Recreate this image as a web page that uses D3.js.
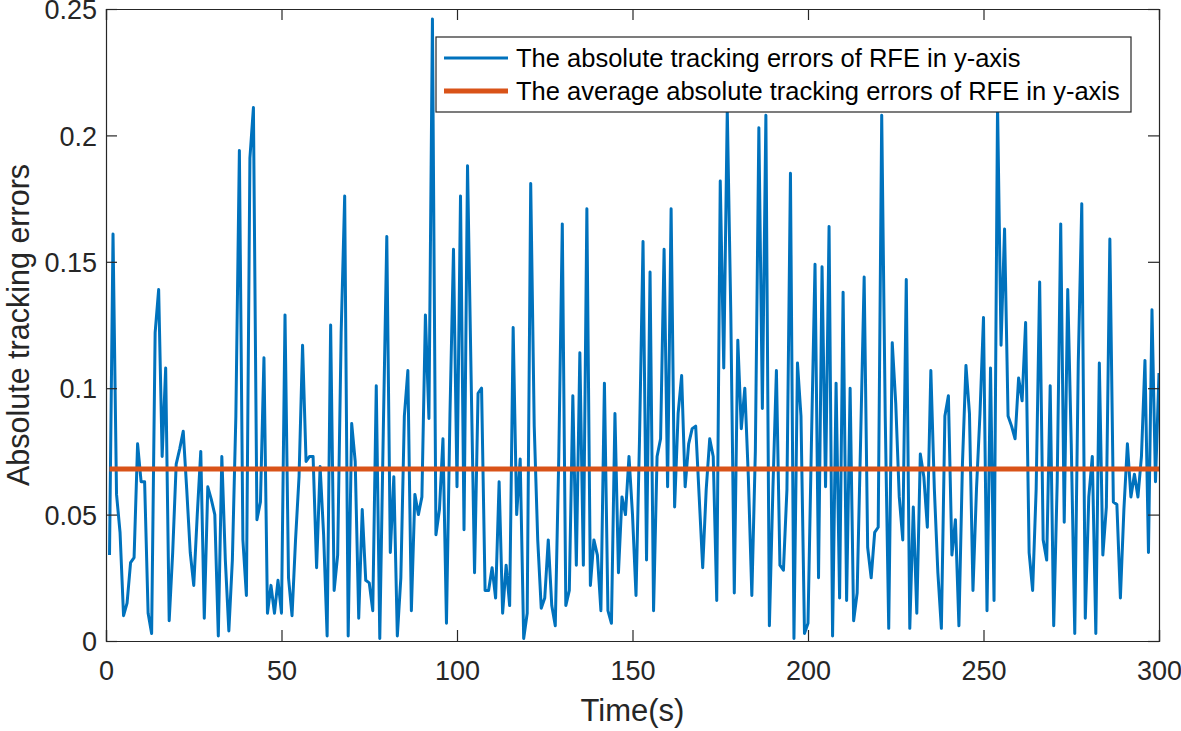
<!DOCTYPE html>
<html>
<head>
<meta charset="utf-8">
<script src="https://cdn.jsdelivr.net/npm/d3@7"></script>
<style>
  html, body { margin: 0; padding: 0; background: #fff; }
  svg { display: block; font-family: "Liberation Sans", Arial, Helvetica, sans-serif; }
</style>
</head>
<body>
<svg id="chart" width="1181" height="731"></svg>
<script>
// ---- data ----
const seriesName = "The absolute tracking errors of RFE in y-axis";
const avgName = "The average absolute tracking errors of RFE in y-axis";
const times = d3.range(1, 301); // sample times (s)
const errorsY = [
  0.034,0.161,0.058,0.043,0.010,0.015,0.031,0.033,0.078,0.063,
  0.063,0.011,0.003,0.122,0.139,0.073,0.108,0.008,0.035,0.070,
  0.076,0.083,0.060,0.035,0.022,0.050,0.075,0.009,0.061,0.056,
  0.050,0.002,0.073,0.032,0.004,0.032,0.089,0.194,0.040,0.018,
  0.191,0.211,0.048,0.055,0.112,0.011,0.022,0.011,0.024,0.011,
  0.129,0.025,0.010,0.040,0.065,0.117,0.071,0.073,0.073,0.029,
  0.069,0.042,0.002,0.125,0.020,0.034,0.122,0.176,0.002,0.086,
  0.071,0.009,0.052,0.024,0.023,0.012,0.101,0.001,0.083,0.160,
  0.035,0.065,0.002,0.025,0.089,0.107,0.012,0.058,0.050,0.057,
  0.129,0.088,0.246,0.042,0.052,0.080,0.007,0.090,0.155,0.061,
  0.176,0.044,0.188,0.106,0.027,0.098,0.100,0.020,0.020,0.029,
  0.017,0.063,0.011,0.030,0.014,0.124,0.050,0.072,0.001,0.011,
  0.181,0.085,0.040,0.013,0.017,0.040,0.014,0.006,0.073,0.165,
  0.014,0.020,0.097,0.030,0.114,0.030,0.171,0.022,0.040,0.034,
  0.012,0.102,0.012,0.007,0.090,0.027,0.057,0.050,0.073,0.050,
  0.018,0.080,0.158,0.032,0.146,0.012,0.073,0.080,0.155,0.061,
  0.171,0.053,0.090,0.105,0.061,0.078,0.084,0.085,0.057,0.029,
  0.060,0.080,0.073,0.016,0.182,0.108,0.210,0.130,0.019,0.119,
  0.084,0.100,0.065,0.018,0.075,0.203,0.092,0.208,0.006,0.060,
  0.107,0.030,0.028,0.060,0.185,0.001,0.110,0.089,0.003,0.007,
  0.080,0.149,0.025,0.148,0.061,0.164,0.002,0.102,0.017,0.138,
  0.016,0.100,0.008,0.019,0.080,0.144,0.037,0.025,0.043,0.045,
  0.208,0.089,0.005,0.118,0.094,0.057,0.040,0.143,0.005,0.053,
  0.011,0.074,0.065,0.045,0.107,0.060,0.027,0.005,0.089,0.097,
  0.034,0.048,0.006,0.070,0.109,0.090,0.020,0.060,0.090,0.128,
  0.012,0.108,0.016,0.212,0.117,0.163,0.089,0.085,0.080,0.104,
  0.095,0.126,0.035,0.020,0.060,0.142,0.040,0.032,0.101,0.006,
  0.063,0.165,0.047,0.139,0.078,0.003,0.110,0.173,0.009,0.057,
  0.073,0.003,0.110,0.034,0.053,0.159,0.055,0.054,0.017,0.052,
  0.078,0.057,0.066,0.057,0.073,0.111,0.035,0.131,0.063,0.106
];
const avgError = 0.068;
const xTicks = [0, 50, 100, 150, 200, 250, 300];
const yTicks = [0, 0.05, 0.1, 0.15, 0.2, 0.25];
const yTickLabels = ["0", "0.05", "0.1", "0.15", "0.2", "0.25"];
const xLabel = "Time(s)";
const yLabel = "Absolute tracking errors";

// ---- layout ----
const W = 1181, H = 731;
const m = { left: 106, right: 22, top: 9, bottom: 90 };
const pw = W - m.left - m.right, ph = H - m.top - m.bottom;
const axisColor = "#262626";
const blue = "#0072BD", orange = "#D95319";

const svg = d3.select("#chart");
const g = svg.append("g").attr("transform", `translate(${m.left},${m.top})`);

const x = d3.scaleLinear().domain([0, 300]).range([0, pw]);
const y = d3.scaleLinear().domain([0, 0.25]).range([ph, 0]);

g.append("defs").append("clipPath").attr("id", "clip")
  .append("rect").attr("width", pw).attr("height", ph);

const data = times.map((t, i) => ({ t, v: errorsY[i] }));

const plot = g.append("g").attr("clip-path", "url(#clip)");
plot.append("path")
  .datum(data)
  .attr("fill", "none")
  .attr("stroke", blue)
  .attr("stroke-width", 3)
  .attr("stroke-linejoin", "round")
  .attr("d", d3.line().x(d => x(d.t)).y(d => y(d.v)));

plot.append("path")
  .datum(times.map(t => ({ t, v: avgError })))
  .attr("fill", "none")
  .attr("stroke", orange)
  .attr("stroke-width", 5)
  .attr("d", d3.line().x(d => x(d.t)).y(d => y(d.v)));

// ---- axes (box with inward ticks on all sides) ----
const tickLen = 11;
const fontTick = 27;
const xb = g.append("g").attr("transform", `translate(0,${ph})`)
  .call(d3.axisBottom(x).tickValues(xTicks).tickSize(-tickLen).tickPadding(20).tickFormat(d3.format("d")));
const xt = g.append("g")
  .call(d3.axisTop(x).tickValues(xTicks).tickSize(-tickLen).tickFormat(""));
const yl = g.append("g")
  .call(d3.axisLeft(y).tickValues(yTicks).tickSize(-tickLen).tickPadding(9).tickFormat((d, i) => yTickLabels[i]));
const yr = g.append("g").attr("transform", `translate(${pw},0)`)
  .call(d3.axisRight(y).tickValues(yTicks).tickSize(-tickLen).tickFormat(""));

[xb, xt, yl, yr].forEach(a => {
  a.select(".domain").attr("stroke", axisColor).attr("stroke-width", 1.2);
  a.selectAll(".tick line").attr("stroke", axisColor).attr("stroke-width", 1.2);
  a.selectAll(".tick text").attr("fill", axisColor).attr("font-size", fontTick)
    .attr("font-family", "Liberation Sans, Arial, sans-serif");
});
xb.selectAll(".tick text").attr("dy", "0.71em");
yl.selectAll(".tick text").attr("dy", "0.36em");

// axis labels
svg.append("text")
  .attr("x", m.left + pw / 2).attr("y", 721)
  .attr("text-anchor", "middle").attr("fill", axisColor)
  .attr("font-size", 31).text(xLabel);
svg.append("text")
  .attr("transform", `translate(29,${m.top + ph / 2}) rotate(-90)`)
  .attr("text-anchor", "middle").attr("fill", axisColor)
  .attr("font-size", 30.5).text(yLabel);

// ---- legend ----
const lg = svg.append("g").attr("transform", "translate(436,37)");
lg.append("rect").attr("width", 695).attr("height", 75)
  .attr("fill", "#fff").attr("stroke", axisColor).attr("stroke-width", 1.2);
const items = [
  { name: seriesName, color: blue, w: 3 },
  { name: avgName, color: orange, w: 5 }
];
items.forEach((it, i) => {
  const yy = 21 + i * 33;
  lg.append("line").attr("x1", 8).attr("x2", 72).attr("y1", yy).attr("y2", yy)
    .attr("stroke", it.color).attr("stroke-width", it.w);
  lg.append("text").attr("x", 80).attr("y", yy).attr("dy", "0.35em")
    .attr("font-size", 25.5).attr("fill", "#000").text(it.name);
});
</script>
</body>
</html>
